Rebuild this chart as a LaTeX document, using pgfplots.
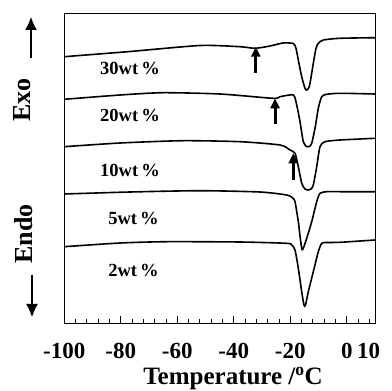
\documentclass[border=0pt]{standalone}
\usepackage{pgfplots}
\pgfplotsset{compat=1.18}
\usepackage{fontspec}
\setmainfont{Liberation Serif}
\usetikzlibrary{arrows.meta}

\begin{document}
\begin{tikzpicture}
\path[use as bounding box] (-64.3bp,-68bp) rectangle (327.7bp,323bp);
\begin{axis}[
  at={(0,0)}, anchor=south west, scale only axis,
  width=310.7bp, height=310bp,
  xmin=-100, xmax=10, ymin=0, ymax=310,
  axis line style={line width=0.9bp},
  xtick={-100,-80,-60,-40,-20,0},
  xticklabels={-100,-80,-60,-40,-20,0},
  minor xtick={-96,-92,...,8},
  extra x ticks={10},
  extra x tick labels={\makebox[0pt][r]{10\hspace{-5bp}}},
  extra x tick style={major tick length=0pt},
  ytick=\empty,
  xtick pos=bottom,
  tick align=inside,
  major tick length=7bp,
  minor tick length=4bp,
  every tick/.style={black, line width=0.8bp},
  xticklabel style={font=\fontsize{23bp}{26bp}\selectfont\bfseries, anchor=base, yshift=-35.3bp, inner sep=0pt},
  xlabel={Temperature /\textsuperscript{o}C},
  xlabel style={font=\fontsize{25bp}{30bp}\selectfont\bfseries, at={(axis description cs:0.543,0)}, anchor=base, yshift=-61.5bp, inner sep=0pt},
  clip=false,
]
% 30 wt%
\addplot[black, line width=1.6bp, smooth, tension=0.4] coordinates {
(-100,266.3) (-76.74,271.5) (-51.96,277.5) (-37.8,276.3) (-32.48,274.7) (-27.17,277)
(-22.57,280) (-18.92,279.5) (-17.97,274.7) (-17.15,263) (-15.95,246.3) (-14.78,234.7)
(-14.18,233) (-13.26,236.3) (-12.41,249.7) (-11.84,259.7) (-10.89,274.7) (-10.07,279.7)
(-8.30,283) (-2.39,284.7) (10,285.3)};
% 20 wt%
\addplot[black, line width=1.6bp, smooth, tension=0.4] coordinates {
(-100,223.7) (-80.28,228) (-65.06,230.3) (-44.88,229) (-26.11,224.7) (-23.63,226.3)
(-18.92,228) (-17.72,218) (-16.55,201.3) (-15.38,181.3) (-14.18,176.3) (-13.26,176.5)
(-12.41,179.7) (-11.24,194.7) (-10.07,214.7) (-8.87,226.3) (-7.10,228.7) (-2.39,229.7) (10,229)};
% 10 wt%
\addplot[black, line width=1.6bp, smooth, tension=0.4] coordinates {
(-100,176.3) (-80.28,180) (-57.98,182.3) (-37.8,181.3) (-23.63,178) (-20.09,173)
(-18.32,169.7) (-17.15,156.3) (-15.95,139.7) (-14.78,134) (-13.61,133) (-12.65,134)
(-11.84,138) (-10.64,156.3) (-9.47,176.3) (-7.70,181.3) (-2.39,183) (10,184.7)};
% 5 wt%
\addplot[black, line width=1.6bp, smooth, tension=0.4] coordinates {
(-100,129) (-76.74,131) (-51.96,132.3) (-30.71,131) (-21.26,128) (-19.13,125)
(-18.32,121.3) (-17.15,101.3) (-16.55,87) (-15.95,74.7) (-15.49,74) (-14.18,84.7)
(-12.41,101.3) (-10.64,121.3) (-9.47,129.7) (-7.10,131.3) (-2.39,131.3) (10,131.3)};
% 2 wt%
\addplot[black, line width=1.6bp, smooth, tension=0.4] coordinates {
(-100,76.3) (-80.28,80) (-63.75,81.3) (-37.8,81) (-21.26,79.7) (-19.49,78)
(-18.32,73) (-17.15,54.7) (-15.95,31.3) (-15.14,18) (-14.6,18) (-13.61,31.3)
(-11.84,51.3) (-10.07,71.3) (-8.87,79.7) (-7.10,80.5) (-2.39,80.7) (10,83)};

\draw[black, line width=3bp, -{Triangle[length=10bp,width=9bp]}] (axis cs:-32.2,250) -- (axis cs:-32.2,276.3);
\draw[black, line width=3bp, -{Triangle[length=10bp,width=9bp]}] (axis cs:-25.4,199) -- (axis cs:-25.4,224.7);
\draw[black, line width=3bp, -{Triangle[length=10bp,width=9bp]}] (axis cs:-18.92,143) -- (axis cs:-18.92,169.7);

\node[anchor=west, inner sep=0pt, font=\fontsize{18.5bp}{20bp}\selectfont\bfseries] at (axis cs:-87.36,255) {30wt\,\%};
\node[anchor=west, inner sep=0pt, font=\fontsize{18.5bp}{20bp}\selectfont\bfseries] at (axis cs:-87.36,207.5) {20wt\,\%};
\node[anchor=west, inner sep=0pt, font=\fontsize{18.5bp}{20bp}\selectfont\bfseries] at (axis cs:-87.36,153) {10wt\,\%};
\node[anchor=west, inner sep=0pt, font=\fontsize{18.5bp}{20bp}\selectfont\bfseries] at (axis cs:-84.5,105) {5wt\,\%};
\node[anchor=west, inner sep=0pt, font=\fontsize{18.5bp}{20bp}\selectfont\bfseries] at (axis cs:-84.5,53) {2wt\,\%};
\end{axis}
\node[rotate=90, inner sep=0pt, font=\fontsize{26bp}{30bp}\selectfont\bfseries] at (-42.3bp,223bp) {Exo};
\draw[black, line width=1.2bp, -{Latex[length=13bp,width=12bp]}] (-33.3bp,265bp) -- (-33.3bp,306bp);
\node[rotate=90, inner sep=0pt, font=\fontsize{26bp}{30bp}\selectfont\bfseries] at (-40.3bp,89bp) {Endo};
\draw[black, line width=1.2bp, -{Latex[length=13bp,width=12bp]}] (-32.3bp,48bp) -- (-32.3bp,6bp);
\end{tikzpicture}
\end{document}
